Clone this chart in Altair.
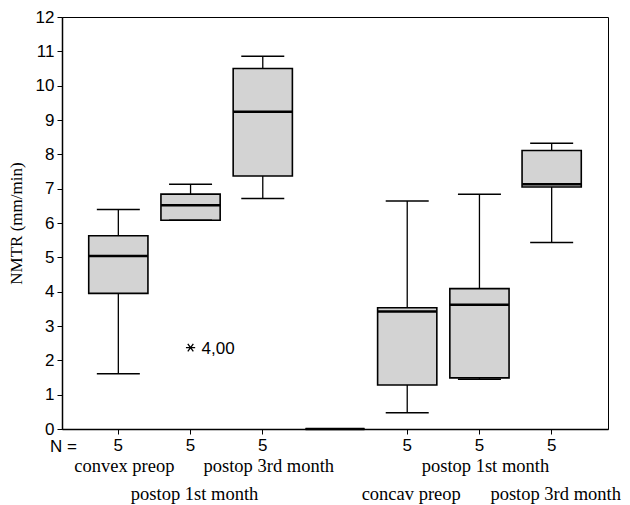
import altair as alt
import pandas as pd

groups = ["convex preop", "convex postop 1st month", "convex postop 3rd month", "gap",
          "concav preop", "concav postop 1st month", "concav postop 3rd month"]
labels = ["convex preop", "postop 1st month", "postop 3rd month", "",
          "concav preop", "postop 1st month", "postop 3rd month"]
label_row = [1, 2, 1, 1, 2, 1, 2]
counts = ["5", "5", "5", "", "5", "5", "5"]
whisk_lo = [1.61, 6.08, 6.71, 0, 0.47, 1.45, 5.43]
q1 = [3.95, 6.08, 7.37, 0, 1.28, 1.49, 7.05]
median = [5.04, 6.52, 9.24, 0, 3.42, 3.62, 7.13]
q3 = [5.63, 6.84, 10.50, 0, 3.53, 4.09, 8.11]
whisk_hi = [6.39, 7.13, 10.86, 0, 6.64, 6.84, 8.32]

outlier_group = ["convex postop 1st month"]
outlier_value = [2.37]
outlier_label = ["4,00"]

df = pd.DataFrame({"group": groups, "label": labels, "row": label_row, "n": counts,
                   "lo": whisk_lo, "q1": q1, "med": median, "q3": q3, "hi": whisk_hi})
real = df[df["group"] != "gap"]
out = pd.DataFrame({"group": outlier_group, "v": outlier_value, "lab": outlier_label})

W, H = 546, 412

xscale = alt.Scale(domain=groups, paddingInner=0.18, paddingOuter=0.37)
yscale = alt.Scale(domain=[0, 12], nice=False)

xenc = alt.X("group:N", scale=xscale, sort=groups,
             axis=alt.Axis(title=None, values=[g for g in groups if g != "gap"],
                           labelExpr="'5'", labelAngle=0, labelFont="Liberation Sans",
                           labelFontSize=17, labelColor="black", tickColor="black",
                           tickSize=5, domainColor="black", domainWidth=1.5,
                           labelPadding=3))
yax = alt.Axis(title="NMTR (mm/min)", values=list(range(0, 13)), grid=False,
               labelFont="Liberation Sans", labelFontSize=17, labelColor="black",
               labelOverlap=False, labelFlush=False,
               tickColor="black", tickSize=5, domainColor="black", domainWidth=1.5,
               titleFont="Liberation Serif", titleFontSize=17, titleFontWeight="normal",
               titleColor="black", titlePadding=10, labelPadding=3)


def Y(field):
    return alt.Y(field, scale=yscale, axis=yax)


base = alt.Chart(df)

whisk = alt.Chart(real).mark_rule(color="black", strokeWidth=1.3).encode(
    x=xenc, y=Y("lo:Q"), y2="hi:Q")
box = base.mark_bar(fill="#d3d3d3", stroke="black", strokeWidth=1.6).encode(
    x=xenc, y=Y("q1:Q"), y2="q3:Q")
med = base.mark_tick(color="black", opacity=1, thickness=2.5, size=59).encode(
    x=xenc, y=Y("med:Q"))
cap_lo = alt.Chart(real).mark_tick(color="black", opacity=1, thickness=1.5, size=43).encode(
    x=xenc, y=Y("lo:Q"))
cap_hi = alt.Chart(real).mark_tick(color="black", opacity=1, thickness=1.5, size=43).encode(
    x=xenc, y=Y("hi:Q"))

star = alt.Chart(out).mark_point(
    shape="M-1,0L1,0M-0.6,-0.8L0.6,0.8M-0.6,0.8L0.6,-0.8",
    size=85, stroke="black", strokeWidth=1.3, opacity=1, filled=False).encode(
    x=xenc, y=Y("v:Q"))
star_lab = alt.Chart(out).mark_text(font="Liberation Sans", fontSize=17, color="black",
                                    align="left", dx=11, baseline="middle", dy=1).encode(
    x=xenc, y=Y("v:Q"), text="lab:N")

names1 = alt.Chart(df[df["row"] == 1]).mark_text(
    font="Liberation Serif", fontSize=18.5, color="black", baseline="middle", dx=6).encode(
    x=xenc, y=alt.value(H + 37), text="label:N")
names2 = alt.Chart(df[df["row"] == 2]).mark_text(
    font="Liberation Serif", fontSize=18.5, color="black", baseline="middle", dx=4).encode(
    x=xenc, y=alt.value(H + 65), text="label:N")
nlab = alt.Chart(pd.DataFrame({"t": ["N ="]})).mark_text(
    font="Liberation Sans", fontSize=17, color="black", align="left",
    baseline="middle").encode(x=alt.value(-12), y=alt.value(H + 18), text="t:N")

chart = alt.layer(whisk, box, med, cap_lo, cap_hi, star, star_lab, names1, names2, nlab).properties(
    width=W, height=H,
    autosize=alt.AutoSizeParams(type="none"),
    padding={"left": 54, "top": 9, "right": 14, "bottom": 76},
    background="white",
).configure_view(stroke="black", strokeWidth=1)

chart.save("out.html", embed_options={"renderer": "svg", "actions": False})
